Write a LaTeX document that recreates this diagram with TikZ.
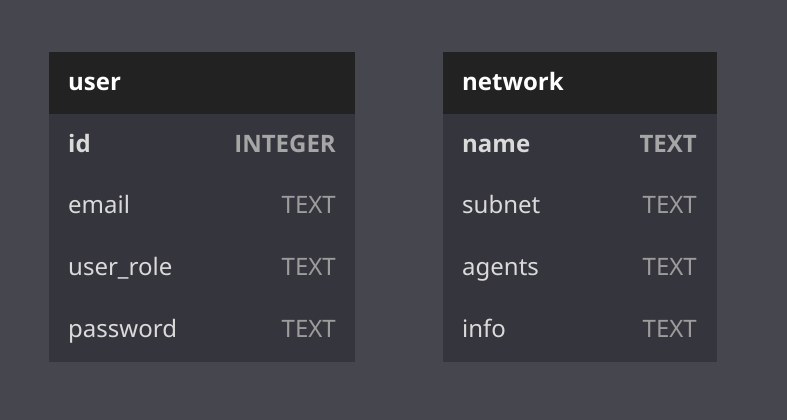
\documentclass[tikz,border=0pt]{standalone}
\usepackage{fontspec}
\setmainfont{Noto Sans}
\newfontfamily\boldfam{Open Sans}
\definecolor{bgc}{HTML}{46464F}
\definecolor{bodyc}{HTML}{35353D}
\definecolor{headc}{HTML}{222222}
\definecolor{namec}{HTML}{DADADA}
\definecolor{typec}{HTML}{9C9C9C}
\begin{document}
\begin{tikzpicture}[x=1pt,y=-1pt,
  tbody/.style={fill=bodyc,draw=none},
  thead/.style={fill=headc,draw=none},
  txt/.style={inner sep=0pt,font=\fontsize{24}{28}\selectfont},
  bfnt/.style={font=\fontsize{24}{28}\selectfont\boldfam\bfseries},
  htext/.style={txt,anchor=base west,text=white,bfnt},
  fname/.style={txt,anchor=base west,text=namec},
  ftype/.style={txt,anchor=base east,text=typec},
  kname/.style={fname,bfnt,text=namec!100!white},
  ktype/.style={ftype,bfnt,text=typec!90!white}]
\useasboundingbox (0,0) rectangle (787,420);
\fill[bgc] (0,0) rectangle (787,420);
% user table
\path[tbody] (49,52) rectangle (355,362);
\path[thead] (49,52) rectangle (355,114);
\node[htext] (uhead) at (68,90) {user};
\node[kname] (uid) at (68,152) {id};
\node[ktype] (uidt) at (336,152) {INTEGER};
\node[fname] (uemail) at (68,213) {email};
\node[ftype] (uemailt) at (336,213) {TEXT};
\node[fname] (urole) at (68,275) {user\_role};
\node[ftype] (uroled) at (336,275) {TEXT};
\node[fname] (upass) at (68,337) {password};
\node[ftype] (upasst) at (336,337) {TEXT};
% network table
\path[tbody] (443,52) rectangle (717,362);
\path[thead] (443,52) rectangle (717,114);
\node[htext] (nhead) at (462,90) {network};
\node[kname] (nname) at (462,152) {name};
\node[ktype] (nnamet) at (697,152) {TEXT};
\node[fname] (nsub) at (462,213) {subnet};
\node[ftype] (nsubt) at (697,213) {TEXT};
\node[fname] (nag) at (462,275) {agents};
\node[ftype] (nagt) at (697,275) {TEXT};
\node[fname] (ninfo) at (462,337) {info};
\node[ftype] (ninfot) at (697,337) {TEXT};
\end{tikzpicture}
\end{document}
